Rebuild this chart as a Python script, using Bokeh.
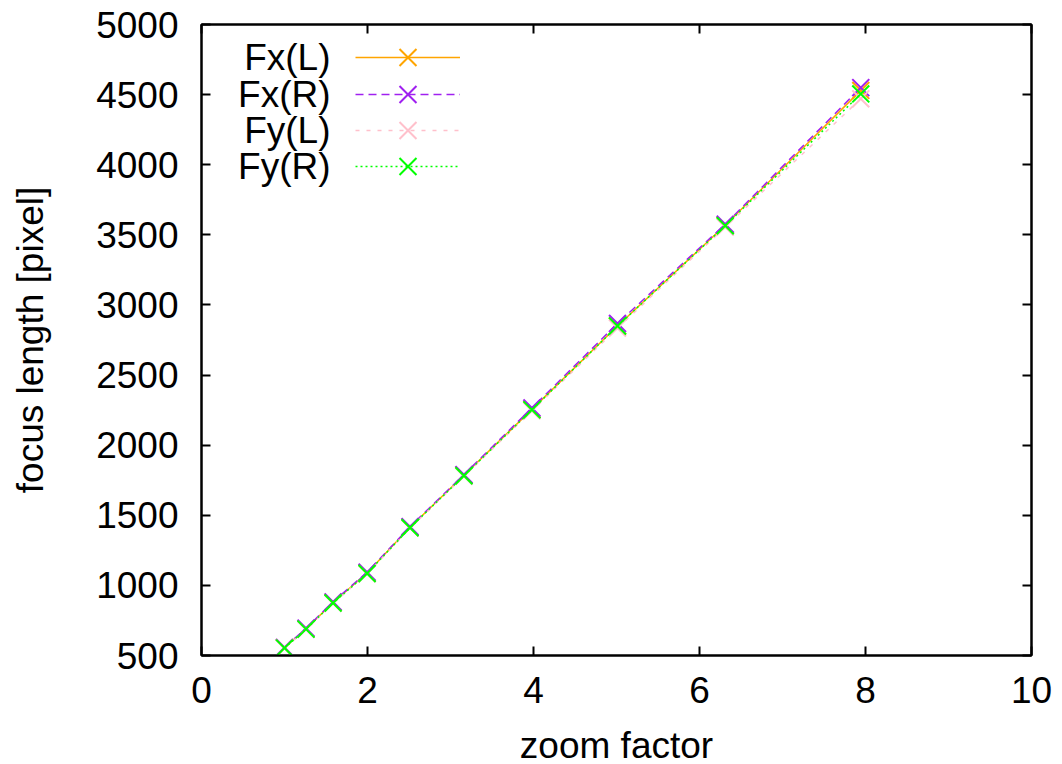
from bokeh.plotting import figure
from bokeh.models import (Range1d, LinearAxis, SingleIntervalTicker, Legend, LegendItem, Label)
from bokeh.embed import file_html
from bokeh.resources import INLINE

# ---- data ----
zoom = [1.0, 1.259, 1.585, 1.995, 2.512, 3.162, 3.981, 5.012, 6.310, 7.943]
fx_l = [555, 690, 878, 1088, 1414, 1785, 2255, 2850, 3568, 4530]
fx_r = [557, 694, 882, 1094, 1418, 1790, 2265, 2868, 3575, 4550]
fy_l = [552, 686, 872, 1082, 1408, 1778, 2245, 2835, 3555, 4470]
fy_r = [553, 688, 874, 1085, 1411, 1782, 2252, 2850, 3565, 4505]
names = ["Fx(L)", "Fx(R)", "Fy(L)", "Fy(R)"]
series = [fx_l, fx_r, fy_l, fy_r]
colors = ["#ffa500", "#a020f0", "#ffc0cb", "#00ff00"]
dashes = ["solid", "8 5", "4 7", "2 3"]
x_ticks_interval = 2
y_ticks_interval = 500

FONT = "Liberation Sans"
FS = "37px"

p = figure(frame_width=830, frame_height=631, output_backend="svg", toolbar_location=None,
           x_range=Range1d(0, 10), y_range=Range1d(500, 5000),
           min_border_left=201, min_border_right=23, min_border_top=24, min_border_bottom=101,
           x_axis_label="zoom factor", y_axis_label="focus length [pixel]")
p.xgrid.visible = False
p.ygrid.visible = False
p.outline_line_color = "black"
p.outline_line_width = 2
p.background_fill_color = "white"
p.border_fill_color = "white"

for ax, interval in ((p.xaxis[0], x_ticks_interval), (p.yaxis[0], y_ticks_interval)):
    ax.ticker = SingleIntervalTicker(interval=interval)
    ax.minor_tick_line_color = None
    ax.major_tick_in = 9
    ax.major_tick_out = 0
    ax.major_tick_line_width = 2
    ax.axis_line_width = 2
    ax.major_label_text_font = FONT
    ax.major_label_text_font_size = FS
    ax.major_label_text_color = "black"
    ax.axis_label_text_font = FONT
    ax.axis_label_text_font_size = FS
    ax.axis_label_text_font_style = "normal"
    ax.axis_label_text_color = "black"

p.xaxis[0].major_label_standoff = 17
p.xaxis[0].axis_label_standoff = 19
p.yaxis[0].major_label_standoff = 19
p.yaxis[0].axis_label_standoff = 42

# mirrored ticks
top = LinearAxis(ticker=SingleIntervalTicker(interval=x_ticks_interval), major_label_text_font_size="0px",
                 major_tick_in=9, major_tick_out=0, major_tick_line_width=2, minor_tick_line_color=None,
                 axis_line_width=2)
right = LinearAxis(ticker=SingleIntervalTicker(interval=y_ticks_interval), major_label_text_font_size="0px",
                   major_tick_in=9, major_tick_out=0, major_tick_line_width=2, minor_tick_line_color=None,
                   axis_line_width=2)
p.add_layout(top, "above")
p.add_layout(right, "right")

row_y = [598, 561, 525, 489]
GH = 60
for name, ys, c, d, yy in zip(names, series, colors, dashes, row_y):
    ln = p.line(zoom, ys, line_color=c, line_width=1.5, line_dash=d)
    sc = p.scatter(zoom, ys, marker="x", size=24, line_color=c, line_width=2)
    leg = Legend(items=[LegendItem(label=" ", renderers=[ln, sc])], location=(154, yy - GH // 2),
                 glyph_width=105, glyph_height=GH, spacing=0,
                 padding=0, margin=0, border_line_color=None, background_fill_alpha=0,
                 label_text_font_size="8px", label_standoff=0, label_width=1)
    p.add_layout(leg)
    p.add_layout(Label(x=129, y=yy, x_units="screen", y_units="screen", text=name,
                       text_align="right", text_baseline="middle", text_font=FONT,
                       text_font_size=FS, text_color="black"))

open("out.html", "w").write(file_html(p, INLINE))
